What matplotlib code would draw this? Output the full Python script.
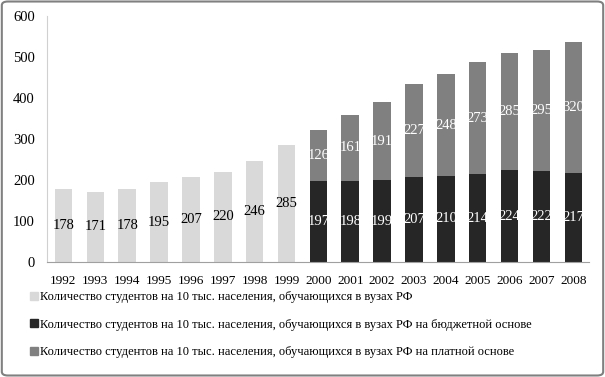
import matplotlib
matplotlib.use("Agg")
import matplotlib.pyplot as plt
import matplotlib.patches as mpatches
import numpy as np

years = [str(y) for y in range(1992, 2009)]
total_students = [178, 171, 178, 195, 207, 220, 246, 285] + [None] * 9
budget_students = [None] * 8 + [197, 198, 199, 207, 210, 214, 224, 222, 217]
paid_students = [None] * 8 + [126, 161, 191, 227, 248, 273, 285, 295, 320]

labels = [
    "Количество студентов на 10 тыс. населения, обучающихся в вузах РФ",
    "Количество студентов на 10 тыс. населения, обучающихся в вузах РФ на бюджетной основе",
    "Количество студентов на 10 тыс. населения, обучающихся в вузах РФ на платной основе",
]
colors = ["#D9D9D9", "#262626", "#808080"]

plt.rcParams['font.family'] = ['Liberation Serif', 'DejaVu Serif']

fig = plt.figure(figsize=(6.05, 3.77), dpi=100)
ax = fig.add_axes([0.0785, 0.305, 0.8955, 0.6526])

x = np.arange(len(years))
w = 0.55

def arr(v):
    return np.array([np.nan if a is None else a for a in v], dtype=float)

t = arr(total_students)
b = arr(budget_students)
p = arr(paid_students)

m1 = ~np.isnan(t)
m2 = ~np.isnan(b)
bars1 = ax.bar(x[m1], t[m1], w, color=colors[0], label=labels[0])
bars2 = ax.bar(x[m2], b[m2], w, color=colors[1], label=labels[1])
bars3 = ax.bar(x[m2], p[m2], w, bottom=b[m2], color=colors[2], label=labels[2])

ax.bar_label(bars1, labels=[str(int(v)) for v in t[m1]], label_type='center', color='black', fontsize=10.5)
ax.bar_label(bars2, labels=[str(int(v)) for v in b[m2]], label_type='center', color='white', fontsize=10.5)
ax.bar_label(bars3, labels=[str(int(v)) for v in p[m2]], label_type='center', color='white', fontsize=10.5)

ax.set_xlim(-0.5, len(years) - 0.5)
ax.set_ylim(0, 600)
ax.set_yticks(range(0, 601, 100))
ax.set_xticks(x)
ax.set_xticklabels(years)
ax.tick_params(axis='y', length=0, labelsize=10.5, pad=9)
ax.tick_params(axis='x', length=0, labelsize=9.5, pad=9)
for s in ['top', 'right']:
    ax.spines[s].set_visible(False)
ax.spines['left'].set_color('#D0D0D0')
ax.spines['bottom'].set_color('#A0A0A0')

handles = [mpatches.Patch(color=c) for c in colors]
fig.legend(handles, labels, loc='upper left', bbox_to_anchor=(0.05, 0.228),
           frameon=False, fontsize=9, handlelength=0.6, handleheight=0.6,
           handletextpad=0.2, labelspacing=1.25, borderaxespad=0, borderpad=0)

border = mpatches.FancyBboxPatch((0.003, 0.004), 0.994, 0.992, boxstyle="round,pad=0,rounding_size=0.01",
                                 transform=fig.transFigure, fill=False, edgecolor='#808080', linewidth=1.5)
fig.patches.append(border)

fig.savefig("out.png", dpi=100)
